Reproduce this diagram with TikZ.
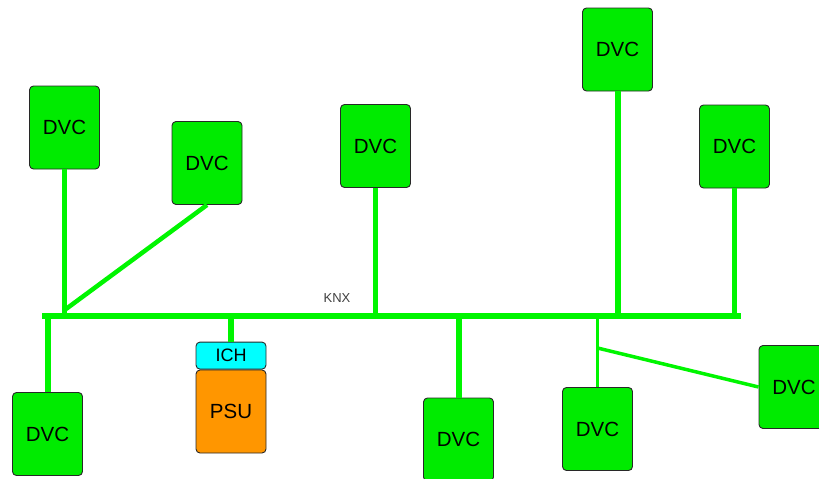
\documentclass[tikz,border=0pt]{standalone}
\usepackage{fontspec}
\setmainfont{Liberation Sans}
\definecolor{devgreen}{RGB}{0,235,0}
\definecolor{busgreen}{RGB}{0,245,0}
\definecolor{psuorange}{RGB}{255,150,0}
\definecolor{chcyan}{RGB}{0,255,255}
\definecolor{edge}{RGB}{40,40,40}
\tikzset{
  unitbox/.style={draw=edge, line width=0.9pt, rounded corners=4pt,
    minimum width=70pt, minimum height=83pt, inner sep=0pt,
    font=\fontsize{20.5}{22}\selectfont},
  dev/.style={unitbox, fill=devgreen},
  bus/.style={draw=busgreen, line width=6pt},
  stub/.style={draw=busgreen, line width=4.5pt},
  thin/.style={draw=busgreen, line width=3.5pt},
}
\begin{document}
\begin{tikzpicture}[x=1pt,y=-1pt]
\useasboundingbox (0,0) rectangle (819,479);

% devices above the line
\node[dev] (d1) at (64.5,127.5) {DVC};
\node[dev] (d2) at (207,163) {DVC};
\node[dev] (d3) at (375.5,146) {DVC};
\node[dev] (d4) at (617.5,49.5) {DVC};
\node[dev] (d5) at (734.5,146.5) {DVC};

% devices below the line
\node[dev] (d6) at (47.5,434) {DVC};
\node[dev] (d7) at (458.5,439.5) {DVC};
\node[dev] (d8) at (597.5,429) {DVC};
\node[dev] (d9) at (794,387) {DVC};

% power supply with choke
\node[unitbox, fill=psuorange] (psu) at (231,411.5) {PSU};
\node[unitbox, fill=chcyan, minimum height=27pt,
  font=\fontsize{18}{20}\selectfont, anchor=south] (ch) at (psu.north) {ICH};

% bus line
\coordinate (bl) at (44.5,315.5);
\coordinate (br) at (738,315.5);
\draw[bus, line cap=rect] (bl) -- (br);
\node[font=\fontsize{13}{14}\selectfont, text=black!75] (knx) at (337,298) {KNX};

% branch points
\coordinate (j2) at (66,309);
\coordinate (k9) at (597.5,348);

\draw[stub] (d1.south) -- (d1.south |- bl);
\draw[stub] (d2.south) -- (j2);
\draw[stub] (d3.south) -- (d3.south |- bl);
\draw[bus] (d4.south) -- (d4.south |- bl);
\draw[stub] (d5.south) -- (d5.south |- bl);
\draw[bus] (d6.north |- bl) -- (d6.north);
\draw[bus] (d7.north |- bl) -- (d7.north);
\draw[bus] (ch.north |- bl) -- (ch.north);
\draw[thin] (d8.north |- bl) -- (d8.north);
\draw[thin] (k9) -- (d9.west);
\end{tikzpicture}
\end{document}
